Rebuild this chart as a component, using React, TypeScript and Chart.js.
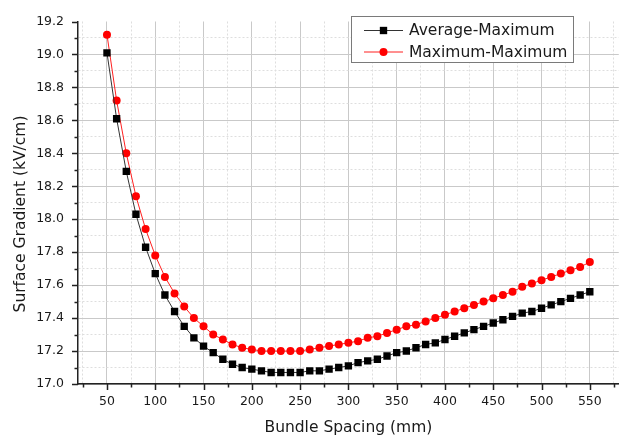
import React, { useEffect, useRef } from 'react';
import { Chart, registerables } from 'chart.js';

Chart.register(...registerables);

const spacing = [
  50, 60, 70, 80, 90, 100, 110, 120, 130, 140, 150, 160, 170, 180, 190, 200,
  210, 220, 230, 240, 250, 260, 270, 280, 290, 300, 310, 320, 330, 340, 350,
  360, 370, 380, 390, 400, 410, 420, 430, 440, 450, 460, 470, 480, 490, 500,
  510, 520, 530, 540, 550,
];

const averageMaximum = [
  19.01, 18.61, 18.29, 18.03, 17.83, 17.67, 17.54, 17.44, 17.35, 17.28, 17.23,
  17.19, 17.15, 17.12, 17.10, 17.09, 17.08, 17.07, 17.07, 17.07, 17.07, 17.08,
  17.08, 17.09, 17.10, 17.11, 17.13, 17.14, 17.15, 17.17, 17.19, 17.20, 17.22,
  17.24, 17.25, 17.27, 17.29, 17.31, 17.33, 17.35, 17.37, 17.39, 17.41, 17.43,
  17.44, 17.46, 17.48, 17.50, 17.52, 17.54, 17.56,
];

const maximumMaximum = [
  19.12, 18.72, 18.40, 18.14, 17.94, 17.78, 17.65, 17.55, 17.47, 17.40, 17.35,
  17.30, 17.27, 17.24, 17.22, 17.21, 17.20, 17.20, 17.20, 17.20, 17.20, 17.21,
  17.22, 17.23, 17.24, 17.25, 17.26, 17.28, 17.29, 17.31, 17.33, 17.35, 17.36,
  17.38, 17.40, 17.42, 17.44, 17.46, 17.48, 17.50, 17.52, 17.54, 17.56, 17.59,
  17.61, 17.63, 17.65, 17.67, 17.69, 17.71, 17.74,
];

const seriesNames = ['Average-Maximum', 'Maximum-Maximum'];

const xMajorTicks = [50, 100, 150, 200, 250, 300, 350, 400, 450, 500, 550];
const xMinorTicks = [25, 75, 125, 175, 225, 275, 325, 375, 425, 475, 525, 575];

const yMajorTicks = [17.0, 17.2, 17.4, 17.6, 17.8, 18.0, 18.2, 18.4, 18.6, 18.8, 19.0, 19.2];
const yTickLabels = ['17.0', '17.2', '17.4', '17.6', '17.8', '18.0', '18.2', '18.4', '18.6', '18.8', '19.0', '19.2'];
const yMinorTicks = [17.1, 17.3, 17.5, 17.7, 17.9, 18.1, 18.3, 18.5, 18.7, 18.9, 19.1];

const xTitle = 'Bundle Spacing (mm)';
const yTitle = 'Surface Gradient (kV/cm)';

const FONT = "'DejaVu Sans', 'Liberation Sans', Arial, sans-serif";
const TEXT = '#1a1a1a';
const AXIS = '#222222';

const near = (a: number, b: number) => Math.abs(a - b) < 1e-6;
const isMajorX = (v: number) => xMajorTicks.some((t) => near(t, v));
const majorYIndex = (v: number) => yMajorTicks.findIndex((t) => near(t, v));

const tickMarksPlugin = {
  id: 'tickMarks',
  afterDraw(chart: any) {
    const { ctx, chartArea, scales } = chart;
    const xs = scales.x;
    const ys = scales.y;
    ctx.save();
    ctx.strokeStyle = AXIS;
    ctx.lineWidth = 1.5;
    ctx.beginPath();
    xs.ticks.forEach((t: any) => {
      const px = Math.round(xs.getPixelForValue(t.value)) + 0.5;
      const len = isMajorX(t.value) ? 6 : 3.5;
      ctx.moveTo(px, chartArea.bottom);
      ctx.lineTo(px, chartArea.bottom + len);
    });
    ys.ticks.forEach((t: any) => {
      const py = Math.round(ys.getPixelForValue(t.value)) + 0.5;
      const len = majorYIndex(t.value) >= 0 ? 6 : 3.5;
      ctx.moveTo(chartArea.left, py);
      ctx.lineTo(chartArea.left - len, py);
    });
    ctx.stroke();
    ctx.restore();
  },
};

const yTitlePlugin = {
  id: 'yTitle',
  afterDraw(chart: any) {
    const { ctx } = chart;
    ctx.save();
    ctx.translate(20.5, 214);
    ctx.rotate(-Math.PI / 2);
    ctx.font = `15.5px ${FONT}`;
    ctx.fillStyle = TEXT;
    ctx.textAlign = 'center';
    ctx.textBaseline = 'middle';
    ctx.fillText(yTitle, 0, 0);
    ctx.restore();
  },
};

const boxLegendPlugin = {
  id: 'boxLegend',
  afterDraw(chart: any) {
    const { ctx } = chart;
    const ds = chart.data.datasets;
    const left = 351;
    const top = 16;
    const width = 222;
    const height = 46;
    ctx.save();
    ctx.fillStyle = '#ffffff';
    ctx.fillRect(left, top, width, height);
    ctx.strokeStyle = '#7a7a7a';
    ctx.lineWidth = 1;
    ctx.strokeRect(left + 0.5, top + 0.5, width, height);
    const rows = [30.5, 52];
    ds.forEach((d: any, i: number) => {
      const y = rows[i];
      ctx.strokeStyle = d.borderColor;
      ctx.lineWidth = 1;
      ctx.beginPath();
      ctx.moveTo(364, y);
      ctx.lineTo(403, y);
      ctx.stroke();
      ctx.fillStyle = d.pointBackgroundColor;
      if (d.pointStyle === 'rect') {
        const s = d.pointRadius * Math.SQRT1_2;
        ctx.fillRect(383.5 - s, y - s, 2 * s, 2 * s);
      } else {
        ctx.beginPath();
        ctx.arc(383.5, y, d.pointRadius, 0, Math.PI * 2);
        ctx.fill();
      }
      ctx.fillStyle = TEXT;
      ctx.font = `15.5px ${FONT}`;
      ctx.textAlign = 'left';
      ctx.textBaseline = 'middle';
      ctx.fillText(d.label, 409, y + 0.5);
    });
    ctx.restore();
  },
};

export default function App() {
  const ref = useRef<HTMLCanvasElement>(null);

  useEffect(() => {
    document.body.style.margin = '0';
    const canvas = ref.current;
    if (!canvas) return;

    const chart = new Chart(canvas, {
      type: 'line',
      data: {
        datasets: [
          {
            label: seriesNames[0],
            data: spacing.map((x, i) => ({ x, y: averageMaximum[i] })),
            borderColor: '#333333',
            borderWidth: 1,
            pointStyle: 'rect',
            pointRadius: 5.2,
            pointBackgroundColor: '#000000',
            pointBorderWidth: 0,
            tension: 0,
          },
          {
            label: seriesNames[1],
            data: spacing.map((x, i) => ({ x, y: maximumMaximum[i] })),
            borderColor: '#ff2020',
            borderWidth: 1,
            pointStyle: 'circle',
            pointRadius: 4,
            pointBackgroundColor: '#ff0000',
            pointBorderWidth: 0,
            tension: 0,
          },
        ] as any,
      },
      options: {
        animation: false,
        responsive: false,
        devicePixelRatio: 1,
        layout: { padding: { top: 17, left: 0, right: 0, bottom: 0 } },
        plugins: {
          legend: { display: false },
          tooltip: { enabled: false },
        },
        scales: {
          x: {
            type: 'linear',
            min: 20,
            max: 580,
            afterBuildTicks: (s: any) => {
              s.ticks = [...xMinorTicks, ...xMajorTicks]
                .sort((a, b) => a - b)
                .map((v) => ({ value: v }));
            },
            afterFit: (s: any) => {
              s.height = 56;
            },
            ticks: {
              autoSkip: false,
              maxRotation: 0,
              padding: 10,
              color: TEXT,
              font: { family: FONT, size: 12.5 },
              callback: (v: any) => (isMajorX(Number(v)) ? String(v) : ''),
            },
            grid: {
              drawTicks: false,
              lineWidth: 1,
              color: (c: any) =>
                c.tick && isMajorX(c.tick.value) ? '#c9c9c9' : '#dedede',
            },
            border: {
              color: AXIS,
              width: 1.5,
              dash: (c: any) =>
                c.type === 'tick' && c.tick && !isMajorX(c.tick.value) ? [2, 2] : [],
            },
            title: {
              display: true,
              text: xTitle,
              color: TEXT,
              font: { family: FONT, size: 15.5 },
              padding: { top: 0, bottom: 3 },
            },
          },
          y: {
            type: 'linear',
            min: 17.0,
            max: 19.2,
            afterBuildTicks: (s: any) => {
              s.ticks = [...yMinorTicks, ...yMajorTicks]
                .sort((a, b) => a - b)
                .map((v) => ({ value: v }));
            },
            afterFit: (s: any) => {
              s.width = 78;
            },
            ticks: {
              autoSkip: false,
              padding: 14,
              color: TEXT,
              font: { family: FONT, size: 12.5 },
              callback: (v: any) => {
                const i = majorYIndex(Number(v));
                return i >= 0 ? yTickLabels[i] : '';
              },
            },
            grid: {
              drawTicks: false,
              lineWidth: 1,
              color: (c: any) => {
                if (!c.tick) return '#c9c9c9';
                if (near(c.tick.value, 19.2)) return 'rgba(0,0,0,0)';
                return majorYIndex(c.tick.value) >= 0 ? '#c9c9c9' : '#dedede';
              },
            },
            border: {
              color: AXIS,
              width: 1.5,
              dash: (c: any) =>
                c.type === 'tick' && c.tick && majorYIndex(c.tick.value) < 0 ? [2, 2] : [],
            },
          },
        },
      } as any,
      plugins: [tickMarksPlugin, yTitlePlugin, boxLegendPlugin],
    });

    return () => chart.destroy();
  }, []);

  return (
    <div style={{ width: 624, height: 440 }}>
      <canvas ref={ref} width={624} height={440} style={{ display: 'block' }} />
    </div>
  );
}
